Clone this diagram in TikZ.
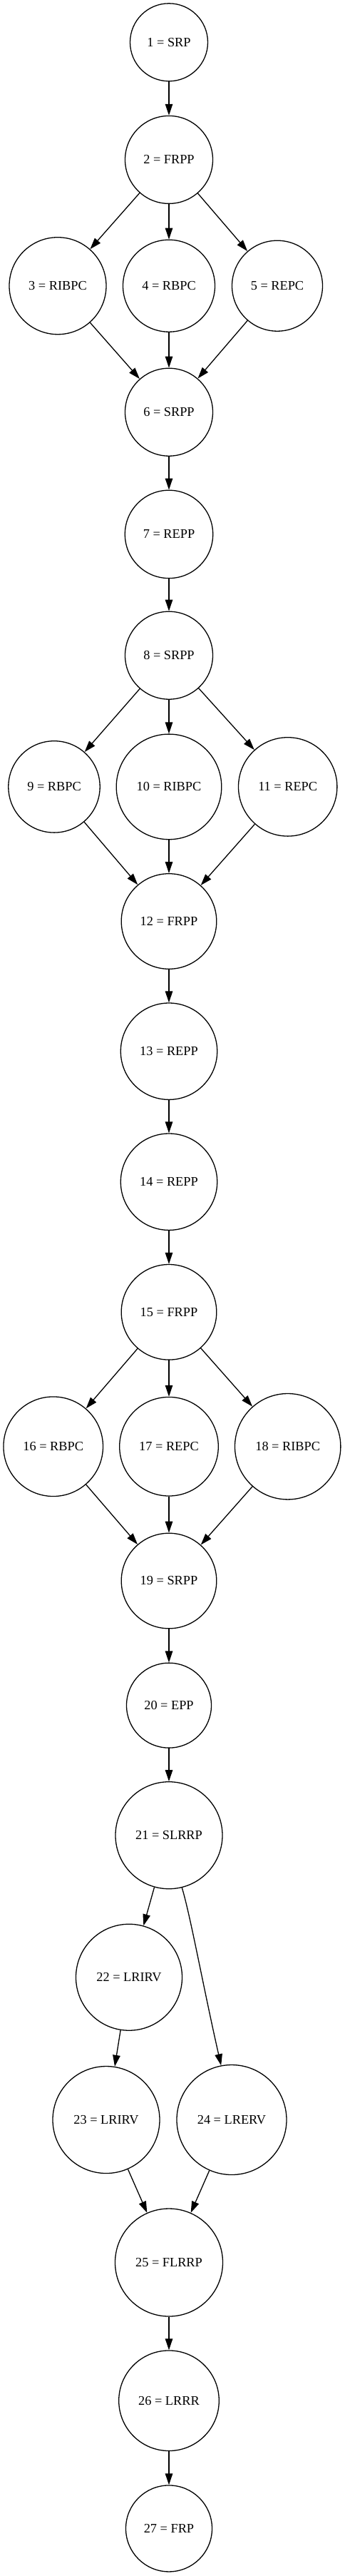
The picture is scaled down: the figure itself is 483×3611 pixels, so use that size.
\documentclass[tikz,border=0pt]{standalone}
\usepackage{fontspec}
\setmainfont{Liberation Serif}
\usetikzlibrary{arrows.meta}
\begin{document}
\begin{tikzpicture}[x=1pt,y=-1pt,
  st/.style={circle,draw=black,fill=white,line width=1.3pt,inner sep=0pt,
    font=\fontsize{18.3}{22}\selectfont},
  arr/.style={-{Triangle[length=16pt,width=10.5pt]},line width=1.3pt}]
\path[use as bounding box,fill=white] (0,0) rectangle (483,3611);
\node[st,minimum size=109pt] (n1) at (237,59.3) {1 = SRP};
\node[st,minimum size=123pt] (n2) at (237,223.9) {2 = FRPP};
\node[st,minimum size=136pt] (n3) at (81,400.7) {3 = RIBPC};
\node[st,minimum size=129pt] (n4) at (237,400.7) {4 = RBPC};
\node[st,minimum size=127pt] (n5) at (389,400.7) {5 = REPC};
\node[st,minimum size=123pt] (n6) at (237,577.7) {6 = SRPP};
\node[st,minimum size=123.4pt] (n7) at (237,748.9) {7 = REPP};
\node[st,minimum size=123pt] (n8) at (237,918.7) {8 = SRPP};
\node[st,minimum size=128.4pt] (n9) at (76,1102.9) {9 = RBPC};
\node[st,minimum size=147.6pt] (n10) at (237,1102.9) {10 = RIBPC};
\node[st,minimum size=138.4pt] (n11) at (403.7,1102.9) {11 = REPC};
\node[st,minimum size=133.6pt] (n12) at (237,1291.5) {12 = FRPP};
\node[st,minimum size=135.4pt] (n13) at (237,1473.7) {13 = REPP};
\node[st,minimum size=135.4pt] (n14) at (237,1656.7) {14 = REPP};
\node[st,minimum size=133.6pt] (n15) at (237,1839.3) {15 = FRPP};
\node[st,minimum size=139.6pt] (n16) at (74.7,2027.7) {16 = RBPC};
\node[st,minimum size=138.6pt] (n17) at (237,2027.7) {17 = REPC};
\node[st,minimum size=148.4pt] (n18) at (403.7,2027.7) {18 = RIBPC};
\node[st,minimum size=133.6pt] (n19) at (237,2216) {19 = SRPP};
\node[st,minimum size=119pt] (n20) at (237,2390.6) {20 = EPP};
\node[st,minimum size=150pt] (n21) at (237,2572.7) {21 = SLRRP};
\node[st,minimum size=149pt] (n22) at (181,2771.7) {22 = LRIRV};
\node[st,minimum size=150pt] (n23) at (149,2971.5) {23 = LRIRV};
\node[st,minimum size=154pt] (n24) at (325,2971.5) {24 = LRERV};
\node[st,minimum size=151pt] (n25) at (237,3171.5) {25 = FLRRP};
\node[st,minimum size=140.6pt] (n26) at (237,3365.2) {26 = LRRR};
\node[st,minimum size=121pt] (n27) at (237,3544.4) {27 = FRP};
\draw[arr] (n1) -- (n2);
\draw[arr] (n2) -- (n3);
\draw[arr] (n2) -- (n4);
\draw[arr] (n2) -- (n5);
\draw[arr] (n3) -- (n6);
\draw[arr] (n4) -- (n6);
\draw[arr] (n5) -- (n6);
\draw[arr] (n6) -- (n7);
\draw[arr] (n7) -- (n8);
\draw[arr] (n8) -- (n9);
\draw[arr] (n8) -- (n10);
\draw[arr] (n8) -- (n11);
\draw[arr] (n9) -- (n12);
\draw[arr] (n10) -- (n12);
\draw[arr] (n11) -- (n12);
\draw[arr] (n12) -- (n13);
\draw[arr] (n13) -- (n14);
\draw[arr] (n14) -- (n15);
\draw[arr] (n15) -- (n16);
\draw[arr] (n15) -- (n17);
\draw[arr] (n15) -- (n18);
\draw[arr] (n16) -- (n19);
\draw[arr] (n17) -- (n19);
\draw[arr] (n18) -- (n19);
\draw[arr] (n19) -- (n20);
\draw[arr] (n20) -- (n21);
\draw[arr] (n21) -- (n22);
\draw[arr] (n21.-76) .. controls +(12,40) and +(-25,-110) .. (n24.101);
\draw[arr] (n22) -- (n23);
\draw[arr] (n23) -- (n25);
\draw[arr] (n24) -- (n25);
\draw[arr] (n25) -- (n26);
\draw[arr] (n26) -- (n27);
\end{tikzpicture}
\end{document}
